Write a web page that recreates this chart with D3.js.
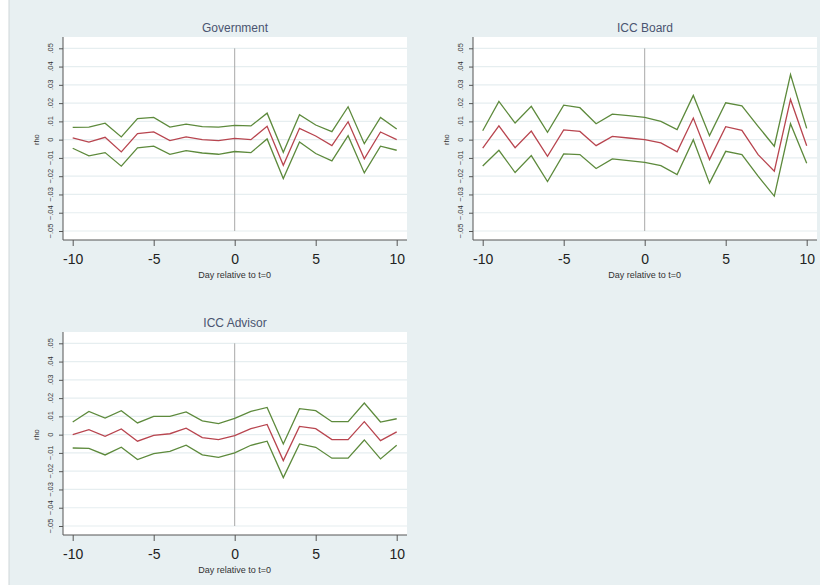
<!DOCTYPE html>
<html><head><meta charset="utf-8">
<script src="https://cdn.jsdelivr.net/npm/d3@7"></script>
<style>body{margin:0;background:#fff}svg{display:block}text{font-family:"Liberation Sans",Arial,sans-serif}</style>
</head><body><svg id="c" width="820" height="587"></svg>
<script>
const days = d3.range(-10, 11);
const yTicks = [-0.05,-0.04,-0.03,-0.02,-0.01,0,0.01,0.02,0.03,0.04,0.05];
const xTicks = [-10,-5,0,5,10];
const panelTitles = ["Government","ICC Board","ICC Advisor"];

const govEst   = [0.001,-0.0013,0.0013,-0.0067,0.0033,0.0042,-0.0005,0.0015,0,-0.0005,0.0007,0,0.0073,-0.014,0.0062,0.002,-0.0033,0.0098,-0.0105,0.0042,0];
const govHi    = [0.0067,0.0069,0.009,0.0015,0.0115,0.0122,0.0069,0.0085,0.0071,0.0069,0.0078,0.0075,0.0145,-0.0069,0.0136,0.008,0.0044,0.018,-0.0022,0.0122,0.0058];
const govLo    = [-0.0047,-0.0089,-0.0071,-0.0145,-0.0045,-0.0036,-0.008,-0.006,-0.0073,-0.008,-0.0065,-0.0071,0.0004,-0.0213,-0.0013,-0.0076,-0.0116,0.0022,-0.0182,-0.0036,-0.0058];

const boardEst = [-0.0047,0.0075,-0.0044,0.0047,-0.0091,0.0053,0.0045,-0.0033,0.0018,0.0009,0,-0.0018,-0.0067,0.0118,-0.0109,0.0071,0.0051,-0.0082,-0.0173,0.022,-0.0033];
const boardHi  = [0.0049,0.0209,0.0091,0.0182,0.004,0.0189,0.0175,0.0087,0.014,0.0131,0.0122,0.01,0.0055,0.0242,0.0022,0.0202,0.0185,0.0073,-0.0036,0.0356,0.0062];
const boardLo  = [-0.0144,-0.0058,-0.018,-0.0087,-0.0229,-0.0078,-0.0082,-0.0158,-0.0105,-0.0115,-0.0124,-0.0142,-0.0191,0,-0.0238,-0.0064,-0.0082,-0.02,-0.0309,0.0087,-0.0129];

const advEst   = [0,0.0027,-0.0009,0.0031,-0.0036,-0.0004,0.0005,0.0035,-0.0016,-0.0027,-0.0005,0.0033,0.0056,-0.0142,0.0045,0.0033,-0.0027,-0.0027,0.0071,-0.0033,0.0015];
const advHi    = [0.0069,0.0127,0.0091,0.0131,0.0064,0.01,0.01,0.0124,0.0076,0.006,0.0089,0.0127,0.0149,-0.0051,0.0142,0.0131,0.0071,0.0071,0.0173,0.0069,0.0087];
const advLo    = [-0.0073,-0.0075,-0.0111,-0.0069,-0.0136,-0.0104,-0.0091,-0.0058,-0.0111,-0.0124,-0.01,-0.0058,-0.0036,-0.0235,-0.0051,-0.0069,-0.0129,-0.0129,-0.0029,-0.0133,-0.0058];

const panels = [
  {title: panelTitles[0], est: govEst, hi: govHi, lo: govLo, x0: 63, y0: 37},
  {title: panelTitles[1], est: boardEst, hi: boardHi, lo: boardLo, x0: 473, y0: 37},
  {title: panelTitles[2], est: advEst, hi: advHi, lo: advLo, x0: 63, y0: 332}
];

const svg = d3.select("#c");
svg.append("rect").attr("x",9).attr("y",0).attr("width",811).attr("height",585).attr("fill","#e8f0f2");
svg.append("line").attr("x1",9).attr("x2",9).attr("y1",0).attr("y2",585).attr("stroke","#cfd6d8").attr("stroke-width",1);

const W = 344, H = 203;
const fmt = v => v === 0 ? "0" : d3.format(".2f")(v).replace("0.", ".");

panels.forEach(p => {
  const g = svg.append("g").attr("transform", `translate(${p.x0},${p.y0})`);
  const x = d3.scaleLinear().domain([-10,10]).range([9.7, 333.7]);
  const y = d3.scaleLinear().domain([-0.05,0.05]).range([194, 11.3]);
  g.append("rect").attr("width", W).attr("height", H).attr("fill", "#fff");
  g.selectAll(".grid").data(yTicks).enter().append("line")
    .attr("x1", 0).attr("x2", W).attr("y1", d => y(d)).attr("y2", d => y(d))
    .attr("stroke", "#e6eef0").attr("stroke-width", 1.2);
  g.append("line").attr("x1", x(0)).attr("x2", x(0)).attr("y1", y(0.05)).attr("y2", y(-0.05))
    .attr("stroke", "#a8a8a8").attr("stroke-width", 1);
  const line = d3.line().x((d,i) => x(days[i])).y(d => y(d));
  [[p.hi,"#5d8a3c"],[p.lo,"#5d8a3c"],[p.est,"#b8454f"]].forEach(([arr,col]) => {
    g.append("path").datum(arr).attr("d", line).attr("fill","none")
      .attr("stroke", col).attr("stroke-width", 1.3).attr("stroke-linejoin","miter");
  });
  // y axis
  const ya = g.append("g").call(d3.axisLeft(y).tickValues(yTicks).tickSize(4).tickFormat(""));
  ya.select(".domain").attr("stroke","#555").attr("d", `M0,0V${H}`);
  ya.selectAll(".tick line").attr("stroke","#555");
  g.selectAll(".ylab").data(yTicks).enter().append("text")
    .attr("transform", d => `translate(-10.5,${y(d)}) rotate(-90)`)
    .attr("text-anchor","middle").attr("font-size", 7.5).attr("fill","#333").text(fmt);
  g.append("text").attr("transform", `translate(-24,${y(0)}) rotate(-90)`)
    .attr("text-anchor","middle").attr("font-size", 7.5).attr("fill","#333").text("rho");
  // x axis
  const xa = g.append("g").attr("transform", `translate(0,${H})`)
    .call(d3.axisBottom(x).tickValues(xTicks).tickSize(6).tickPadding(8).tickFormat(d3.format("d")));
  xa.select(".domain").attr("stroke","#555").attr("d", `M0,0H${W}`);
  xa.selectAll(".tick line").attr("stroke","#555");
  xa.selectAll(".tick text").attr("font-size", 14).attr("fill","#222")
    .attr("font-family", '"Liberation Sans",Arial,sans-serif').text(d => d < 0 ? "-" + Math.abs(d) : d);
  g.append("text").attr("x", x(0)).attr("y", H + 38).attr("text-anchor","middle")
    .attr("font-size", 9).attr("fill","#333").text("Day relative to t=0");
  g.append("text").attr("x", W/2).attr("y", -5).attr("text-anchor","middle")
    .attr("font-size", 12).attr("fill","#4a5470").text(p.title);
});
</script></body></html>
